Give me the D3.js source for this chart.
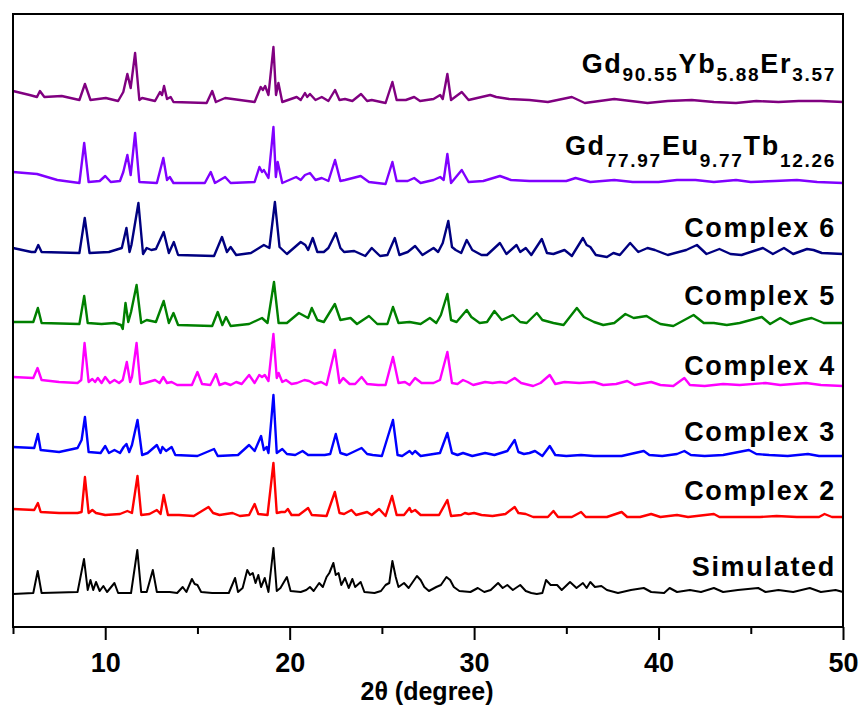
<!DOCTYPE html>
<html>
<head>
<meta charset="utf-8">
<script src="https://cdn.jsdelivr.net/npm/d3@7"></script>
<style>
  body { margin: 0; background: #fff; }
  text { font-family: "Liberation Sans", Arial, sans-serif; font-weight: bold; }
</style>
</head>
<body>
<div id="chart"></div>
<script>
// 2-theta ticks
const majorTicks = [10, 20, 30, 40, 50];
const minorTicks = [5, 15, 25, 35, 45];

// each pattern: [2theta, intensity] (arbitrary units)
const simulated = [[5.0,0],[6.1,1],[6.34,23],[6.55,1],[8.5,2],[8.85,35],[9.05,4],[9.2,14],[9.35,4],[9.5,12],[9.7,3],[9.9,8],[10.1,2],[10.5,11],[10.7,1],[11.4,1],[11.74,44],[11.95,2],[12.25,2],[12.58,24],[12.8,2],[13.5,2],[13.9,1],[14.2,7],[14.4,2],[14.7,15],[14.85,10],[15.0,9],[15.2,2],[15.8,1],[16.7,1],[17.04,16],[17.2,2],[17.45,6],[17.7,24],[17.85,19],[18.0,21],[18.15,11],[18.3,19],[18.45,7],[18.65,16],[18.85,2],[19.12,46],[19.3,3],[19.5,6],[19.85,17],[20.05,3],[20.6,2],[20.9,4],[21.1,7],[21.3,3],[21.6,11],[21.8,7],[22.0,17],[22.15,21],[22.37,31],[22.5,19],[22.65,21],[22.8,9],[23.0,16],[23.2,6],[23.4,15],[23.55,7],[23.85,12],[24.05,2],[24.6,1],[24.95,3],[25.2,9],[25.4,11],[25.57,33],[25.75,17],[25.9,7],[26.2,11],[26.45,6],[26.9,18],[27.1,14],[27.3,7],[27.55,3],[27.95,7],[28.2,9],[28.5,17],[28.7,14],[28.9,7],[29.2,3],[29.8,2],[30.2,6],[30.55,2],[30.9,4],[31.3,11],[31.55,6],[31.8,9],[32.1,4],[32.5,9],[32.8,3],[33.1,1],[33.4,0],[33.7,1],[33.9,14],[34.15,9],[34.5,9],[34.75,4],[35.2,12],[35.55,6],[35.9,11],[36.1,6],[36.3,12],[36.55,7],[36.9,8],[37.2,4],[37.8,1],[38.5,4],[39.2,6],[39.6,2],[40.3,1],[40.6,6],[41.0,2],[41.7,4],[42.3,2],[43.0,6],[43.5,2],[44.3,4],[45.4,6],[45.8,2],[46.5,4],[47.3,2],[48.2,6],[48.8,2],[49.6,4],[50,2]];

const complex2 = [[5.0,7],[6.15,6],[6.35,13],[6.5,4],[7.5,3],[8.5,3],[8.72,4],[8.9,39],[9.1,3],[9.3,6],[9.5,3],[10.0,1],[10.8,2],[11.2,5],[11.45,3],[11.75,40],[11.95,1],[12.4,2],[12.8,6],[13.0,2],[13.17,21],[13.4,1],[14.0,1],[14.8,0],[15.6,9],[15.85,3],[16.2,1],[16.9,3],[17.3,0],[17.8,1],[18.1,12],[18.3,2],[18.8,1],[19.12,53],[19.3,3],[19.55,4],[19.75,4],[19.9,7],[20.1,1],[20.5,1],[21.0,8],[21.2,1],[22.0,0],[22.45,24],[22.7,3],[22.95,2],[23.35,6],[23.6,1],[24.2,4],[24.45,1],[24.85,7],[25.2,0],[25.55,20],[25.8,1],[26.2,1],[26.5,8],[26.6,4],[26.8,6],[27.1,1],[28.1,1],[28.55,16],[28.75,0],[29.3,1],[29.5,3],[29.7,2],[30.0,3],[30.4,1],[31.0,0],[31.7,2],[32.2,9],[32.4,3],[32.8,2],[33.2,-1],[34.0,-1],[34.3,5],[34.55,-1],[35.3,-1],[35.8,4],[36.05,-1],[37.2,-1],[38.0,4],[38.3,-1],[39.0,-1],[39.6,2],[40.1,-1],[41.0,1],[41.6,-1],[43.0,2],[43.3,-1],[44.4,-1],[45.5,-1],[46.4,0],[47.5,-1],[48.7,-1],[49.0,2],[49.4,-1],[50,-1]];

const complex3 = [[5.0,8],[6.15,7],[6.35,21],[6.5,5],[7.5,3],[8.5,7],[8.72,15],[8.9,38],[9.1,3],[9.75,2],[10.0,9],[10.2,2],[10.5,5],[10.8,2],[11.0,8],[11.15,11],[11.3,3],[11.45,10],[11.75,35],[12.0,0],[12.3,2],[12.8,10],[13.0,2],[13.1,8],[13.3,4],[13.6,8],[13.8,0],[15.0,-1],[15.9,6],[16.1,-1],[17.2,0],[17.5,5],[17.8,10],[18.1,4],[18.45,19],[18.6,5],[18.75,8],[18.85,2],[19.12,60],[19.3,2],[19.6,6],[19.85,1],[20.3,0],[20.7,4],[21.0,0],[21.9,0],[22.2,1],[22.5,21],[22.75,2],[23.1,0],[23.9,7],[24.2,1],[24.5,0],[25.0,-1],[25.6,35],[25.85,0],[26.1,-1],[26.5,4],[26.65,1],[26.8,4],[27.1,-1],[27.8,1],[28.15,2],[28.55,22],[28.8,2],[29.1,0],[29.4,2],[29.9,-1],[30.6,2],[31.1,0],[31.8,4],[32.2,15],[32.4,3],[32.7,1],[33.0,2],[33.3,4],[33.7,-1],[34.1,9],[34.4,0],[35.0,-1],[35.8,0],[36.5,-1],[37.3,-1],[38.0,-1],[39.2,4],[39.5,0],[40.2,-1],[41.0,1],[41.4,4],[41.75,0],[42.5,-1],[43.5,0],[44.9,5],[45.3,1],[46.0,0],[47.0,-1],[48.1,1],[48.7,-1],[50,-1]];

const complex4 = [[5.0,8],[6.1,7],[6.33,17],[6.55,5],[7.5,3],[8.5,2],[8.7,5],[8.88,42],[9.1,3],[9.3,6],[9.45,3],[9.6,7],[9.8,2],[10.0,8],[10.25,2],[10.5,5],[10.75,2],[10.95,5],[11.17,23],[11.35,3],[11.45,8],[11.7,42],[11.9,1],[12.15,2],[12.7,5],[12.95,2],[13.15,8],[13.35,2],[13.6,3],[13.9,0],[14.7,0],[15.0,13],[15.25,1],[15.7,0],[16.0,11],[16.2,0],[16.5,2],[16.8,0],[17.1,3],[17.4,1],[17.8,10],[18.1,2],[18.35,10],[18.5,8],[18.65,10],[18.85,4],[19.12,51],[19.3,7],[19.4,12],[19.6,3],[19.8,5],[20.1,1],[20.4,2],[20.8,5],[21.05,4],[21.35,1],[21.7,3],[22.0,0],[22.45,35],[22.7,2],[22.9,7],[23.25,1],[23.55,1],[23.9,8],[24.2,1],[24.8,0],[25.2,0],[25.6,28],[25.9,2],[26.25,3],[26.5,0],[26.8,7],[27.15,2],[27.8,2],[28.15,5],[28.55,33],[28.8,2],[29.1,1],[29.4,5],[29.65,3],[29.95,0],[30.6,3],[31.0,2],[31.4,3],[31.75,2],[32.2,7],[32.55,2],[33.2,-1],[33.6,2],[34.1,10],[34.4,1],[34.9,3],[35.7,2],[36.5,3],[37.0,0],[37.7,1],[38.3,4],[38.7,0],[39.6,3],[40.1,0],[40.8,-1],[41.4,7],[41.7,0],[42.5,-1],[43.5,1],[44.4,0],[45.8,2],[46.6,0],[48.0,2],[48.8,0],[50,-1]];

const complex5 = [[5.0,2],[6.1,2],[6.35,16],[6.55,1],[8.6,0],[8.86,28],[9.05,1],[9.8,0],[10.5,1],[10.85,-1],[10.95,-5],[11.1,21],[11.25,2],[11.4,12],[11.7,39],[11.95,1],[12.25,4],[12.75,2],[13.17,23],[13.45,1],[13.7,11],[13.95,-1],[15.8,-2],[16.1,12],[16.35,-1],[16.55,7],[16.8,-2],[17.8,0],[18.5,6],[18.8,1],[19.15,42],[19.4,1],[19.85,1],[20.5,11],[20.8,8],[21.0,6],[21.2,16],[21.5,4],[21.85,2],[22.45,20],[22.75,4],[23.3,6],[23.65,0],[24.3,8],[24.75,0],[25.3,0],[25.6,17],[25.9,1],[26.5,2],[27.1,0],[27.6,6],[27.95,1],[28.2,9],[28.55,30],[28.75,4],[29.05,2],[29.6,14],[29.85,7],[30.3,1],[30.7,2],[31.1,13],[31.5,4],[32.1,9],[32.5,2],[32.85,1],[33.4,11],[33.7,4],[34.3,1],[34.85,-1],[35.57,16],[35.95,7],[36.5,2],[37.0,-1],[37.6,1],[38.2,10],[38.65,6],[39.35,8],[39.7,4],[40.1,0],[40.8,-2],[41.9,9],[42.45,1],[43.0,1],[43.7,-1],[44.4,1],[45.6,7],[46.05,0],[46.6,6],[47.15,0],[47.85,4],[48.3,6],[48.95,1],[50,1]];

const complex6 = [[5.0,7],[6.0,3],[6.2,3],[6.37,10],[6.55,3],[8.6,2],[8.89,37],[9.15,2],[10.2,3],[10.9,7],[11.15,27],[11.32,3],[11.42,10],[11.8,52],[12.05,1],[12.25,7],[12.5,5],[12.75,6],[13.17,23],[13.45,2],[13.72,13],[13.95,0],[15.9,-1],[16.33,18],[16.6,3],[16.8,8],[17.1,0],[17.9,2],[18.6,10],[18.9,7],[19.2,53],[19.45,8],[19.85,1],[20.6,13],[20.85,10],[21.0,5],[21.25,17],[21.5,3],[21.85,3],[22.1,7],[22.5,22],[22.75,7],[22.95,3],[23.5,4],[24.1,-1],[24.45,7],[24.9,-1],[25.3,0],[25.7,17],[25.95,0],[26.4,3],[26.8,9],[27.2,0],[27.8,7],[28.05,3],[28.3,12],[28.6,34],[28.8,8],[29.0,5],[29.3,2],[29.6,15],[29.9,5],[30.4,0],[30.7,0],[31.4,12],[31.75,1],[32.3,10],[32.5,3],[32.8,7],[33.1,0],[33.67,16],[33.95,2],[34.3,1],[34.9,5],[35.3,-1],[35.9,17],[36.1,10],[36.3,8],[36.6,0],[37.2,-2],[37.55,2],[37.9,0],[38.46,12],[38.9,3],[39.4,7],[39.8,5],[40.5,0],[41.5,5],[42.08,10],[42.6,1],[43.3,6],[43.9,1],[44.5,0],[45.66,7],[46.2,1],[46.8,7],[47.3,1],[48.05,6],[48.4,5],[48.85,2],[50,1]];

const gdEuTb = [[5.0,11],[6.3,9],[7.4,3],[8.6,0],[8.86,40],[9.1,1],[9.7,2],[10.0,7],[10.3,1],[10.8,2],[10.98,11],[11.2,28],[11.38,8],[11.62,50],[11.85,1],[12.8,0],[13.15,25],[13.35,3],[13.5,6],[13.7,0],[15.4,0],[15.72,11],[15.95,0],[16.5,6],[16.8,0],[18.1,1],[18.36,16],[18.5,11],[18.6,13],[18.85,5],[19.12,56],[19.25,6],[19.35,21],[19.6,0],[20.35,6],[20.6,3],[20.83,8],[21.1,10],[21.4,3],[21.74,5],[22.1,2],[22.46,23],[22.75,2],[23.0,3],[23.85,7],[24.3,1],[25.2,-1],[25.57,21],[25.8,2],[26.4,2],[26.75,5],[27.1,0],[27.8,3],[28.16,6],[28.35,3],[28.55,29],[28.75,0],[29.33,13],[29.7,1],[30.5,2],[31.4,7],[32.0,3],[33.0,2],[35.0,2],[35.5,5],[36.3,1],[37.6,3],[38.6,1],[40,1],[41,3],[42,3],[43,1],[44.2,3],[45,1],[46.3,2],[47.5,3],[48.6,1],[50,0]];

const gdYbEr = [[5.0,11],[5.9,7],[6.3,5],[6.46,11],[6.7,5],[7.64,6],[8.6,2],[8.9,18],[9.2,2],[10.03,4],[10.7,1],[10.98,10],[11.2,28],[11.38,14],[11.62,49],[11.85,2],[12.0,4],[12.7,1],[12.97,10],[13.08,7],[13.19,16],[13.35,3],[13.55,5],[13.7,0],[15.5,-1],[15.8,11],[16.0,0],[16.5,4],[16.9,3],[18.1,0],[18.43,15],[18.55,12],[18.67,16],[18.85,7],[19.12,55],[19.26,7],[19.39,19],[19.6,0],[20.38,5],[20.6,2],[20.83,9],[20.95,5],[21.1,8],[21.4,2],[21.74,5],[22.1,1],[22.46,12],[22.7,2],[23.0,3],[23.4,1],[23.87,8],[24.2,1],[24.45,2],[25.2,-1],[25.57,20],[25.8,2],[26.3,2],[26.75,5],[27.07,1],[27.8,3],[28.16,7],[28.3,3],[28.55,28],[28.75,2],[29.33,10],[29.7,2],[30.87,7],[31.2,5],[31.9,3],[33.0,2],[34.0,0],[35.3,5],[36.0,-1],[37.6,3],[39.4,-1],[40.5,1],[41.8,2],[43,0],[44.2,-1],[45.3,1],[46.5,0],[47.6,1],[48.8,1],[50,0]];

// bottom to top
const patterns = [simulated, complex2, complex3, complex4, complex5, complex6, gdEuTb, gdYbEr];
const offsets = [33, 111, 172, 242, 303, 372, 444, 525];
const colors = ["#000000", "#ff0000", "#0000ff", "#ff00ff", "#008000", "#000080", "#8000ff", "#800080"];

// labels as [text, subscript?] pieces
const labels = [
  [["Simulated", false]],
  [["Complex 2", false]],
  [["Complex 3", false]],
  [["Complex 4", false]],
  [["Complex 5", false]],
  [["Complex 6", false]],
  [["Gd", false], ["77.97", true], ["Eu", false], ["9.77", true], ["Tb", false], ["12.26", true]],
  [["Gd", false], ["90.55", true], ["Yb", false], ["5.88", true], ["Er", false], ["3.57", true]]
];
const labelY = [576, 500, 441, 375, 305, 237, 155, 73];
const subDrop = [0, 0, 0, 0, 0, 0, 12, 8];

const W = 863, H = 713;
const plotL = 13, plotR = 843, plotT = 14, plotB = 627;

const svg = d3.select("#chart").append("svg")
  .attr("width", W)
  .attr("height", H);

const x = d3.scaleLinear().domain([5, 50]).range([plotL, plotR]);
const y = d3.scaleLinear().domain([0, plotB - plotT]).range([plotB, plotT]);

const line = d3.line()
  .x(d => x(d[0]))
  .y(d => y(d[1]));

patterns.forEach((p, i) => {
  svg.append("path")
    .datum(p.map(d => [d[0], d[1] + offsets[i]]))
    .attr("d", line)
    .attr("fill", "none")
    .attr("stroke", colors[i])
    .attr("stroke-width", i === 0 ? 2 : 2.4)
    .attr("stroke-linejoin", "round");
});

// frame
svg.append("rect")
  .attr("x", plotL).attr("y", plotT)
  .attr("width", plotR - plotL).attr("height", plotB - plotT)
  .attr("fill", "none")
  .attr("stroke", "#000")
  .attr("stroke-width", 2);

// major ticks with labels
const gx = svg.append("g")
  .attr("transform", `translate(0,${plotB})`)
  .call(d3.axisBottom(x).tickValues(majorTicks).tickSize(13).tickFormat(d3.format("d")));
gx.select(".domain").remove();
gx.selectAll("line").attr("stroke-width", 2);
gx.selectAll("text")
  .attr("y", 45).attr("dy", 0)
  .attr("fill", "#000")
  .style("font-size", "27px")
  .style("font-weight", "bold")
  .style("font-family", "'Liberation Sans', Arial, sans-serif");

// minor ticks
const gm = svg.append("g")
  .attr("transform", `translate(0,${plotB})`)
  .call(d3.axisBottom(x).tickValues(minorTicks).tickSize(7).tickFormat(""));
gm.select(".domain").remove();
gm.selectAll("line").attr("stroke-width", 2);

// axis title
svg.append("text")
  .attr("x", (plotL + plotR) / 2 - 1)
  .attr("y", 700)
  .attr("text-anchor", "middle")
  .style("font-size", "25px")
  .text("2θ (degree)");

// pattern labels
labels.forEach((parts, i) => {
  const t = svg.append("text")
    .attr("x", 836)
    .attr("y", labelY[i])
    .attr("text-anchor", "end")
    .style("font-size", "27px")
    .style("letter-spacing", "1.7px");
  let shifted = false;
  parts.forEach(([s, sub]) => {
    const ts = t.append("tspan").text(s);
    if (sub) {
      ts.attr("dy", shifted ? 0 : subDrop[i]).style("font-size", "19px");
      shifted = true;
    } else {
      if (shifted) ts.attr("dy", -subDrop[i]);
      shifted = false;
    }
  });
});
</script>
</body>
</html>
